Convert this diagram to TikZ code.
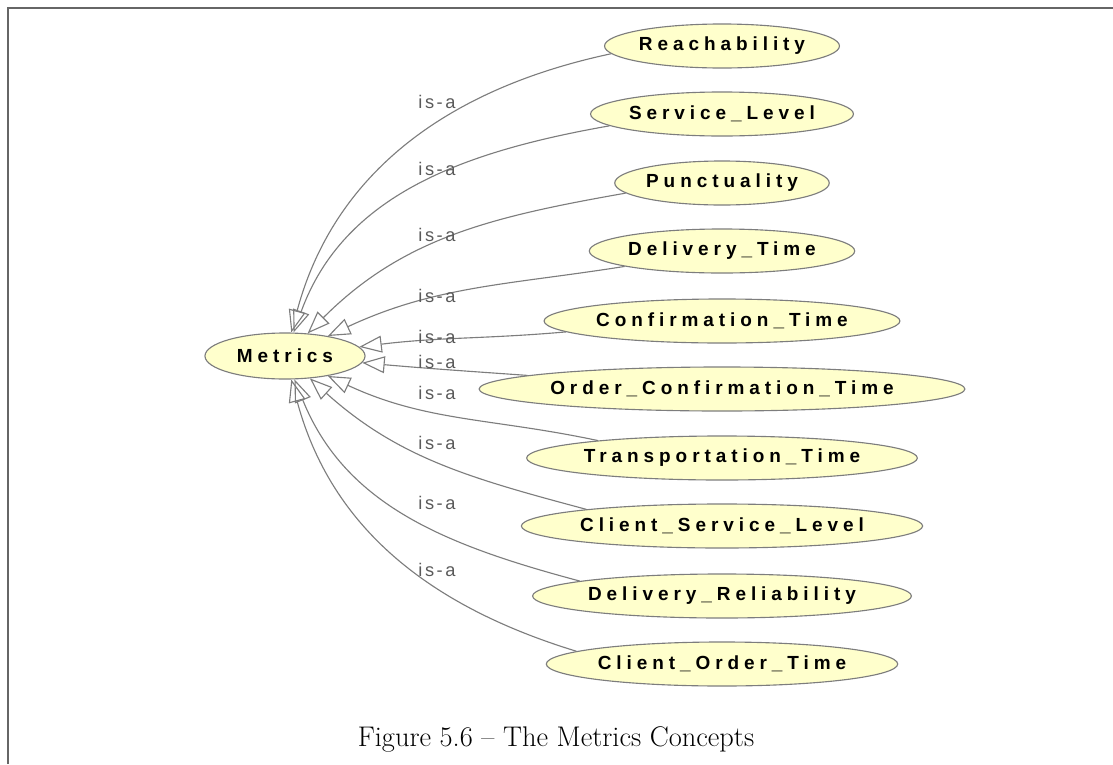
\documentclass[tikz,border=0pt]{standalone}
\usepackage{fontspec}
\usepackage{tikz}
\usepackage{xcolor}
\usetikzlibrary{
    arrows.meta,
    shapes.geometric,
    positioning
}
\newfontfamily\conceptfont[LetterSpace=26]{Liberation Sans}
\newfontfamily\isafont[LetterSpace=14]{Liberation Sans}
\definecolor{conceptfill}{RGB}{255,255,204}
\definecolor{conceptdraw}{RGB}{125,125,125}
\definecolor{isagray}{RGB}{125,125,125}
\definecolor{isatext}{RGB}{90,90,90}
\tikzset{concept/.style={ellipse, draw=conceptdraw, fill=conceptfill, line width=0.8pt, inner sep=0pt, minimum height=1.1cm, font=\conceptfont\bfseries\fontsize{13.5}{15}\selectfont}}
\tikzset{isaedge/.style={draw=isagray, line width=0.8pt, -{Triangle[open, length=16pt, width=12pt]}}}
\tikzset{isalabel/.style={inner sep=0pt, text=isatext, font=\isafont\fontsize{13}{15}\selectfont}}

\begin{document}
\begin{tikzpicture}[x=0.025cm, y=0.025cm]
                        \useasboundingbox (0, 0) rectangle (1113, -764);
                        \draw[black!60, line width=1.4pt] (8, -764) -- (8, -8) -- (1113, -8);

                        \node[concept, minimum width=4cm, minimum height=1.15cm] (metrics) at (285, -356) {Metrics};

                        \node[concept, minimum width=5.75cm] (reach) at (722, -46) {Reachability};
                        \node[concept, minimum width=6.25cm] (servlev) at (722, -114) {Service\_Level};
                        \node[concept, minimum width=5.25cm] (punct) at (722, -183) {Punctuality};
                        \node[concept, minimum width=6.25cm] (deltime) at (722, -251) {Delivery\_Time};
                        \node[concept, minimum width=7.95cm] (conftime) at (722, -321) {Confirmation\_Time};
                        \node[concept, minimum width=10.15cm] (ordconf) at (722, -389) {Order\_Confirmation\_Time};
                        \node[concept, minimum width=8.35cm] (transp) at (722, -458) {Transportation\_Time};
                        \node[concept, minimum width=8.65cm] (cliserv) at (722, -526) {Client\_Service\_Level};
                        \node[concept, minimum width=7.95cm] (delrel) at (722, -596) {Delivery\_Reliability};
                        \node[concept, minimum width=7.9cm] (cliord) at (722, -664) {Client\_Order\_Time};

                        \draw
                        (reach.184) edge[isaedge, out=192, in=75] (metrics)
                        (servlev.186) edge[isaedge, out=190, in=70] (metrics)
                        (punct.186) edge[isaedge, out=190, in=45] (metrics)
                        (deltime.189) edge[isaedge, out=189, in=25] (metrics)
                        (conftime.184) edge[isaedge, out=185, in=7] (metrics)
                        (ordconf.176) edge[isaedge, out=176, in=-5] (metrics)
                        (transp.172) edge[isaedge, out=168, in=-25] (metrics)
                        (cliserv.173) edge[isaedge, out=165, in=-42] (metrics)
                        (delrel.174) edge[isaedge, out=165, in=-68] (metrics)
                        (cliord.175) edge[isaedge, out=163, in=-75] (metrics);

                        \node[isalabel] (isa1) at (437, -102) {is-a};
                        \node[isalabel] (isa2) at (437, -169) {is-a};
                        \node[isalabel] (isa3) at (437, -235) {is-a};
                        \node[isalabel] (isa4) at (437, -296) {is-a};
                        \node[isalabel] (isa5) at (437, -337) {is-a};
                        \node[isalabel] (isa6) at (437, -362) {is-a};
                        \node[isalabel] (isa7) at (437, -393) {is-a};
                        \node[isalabel] (isa8) at (437, -443) {is-a};
                        \node[isalabel] (isa9) at (437, -503) {is-a};
                        \node[isalabel] (isa10) at (437, -570) {is-a};

                        \node[font=\fontsize{20.2}{24}\selectfont] (caption) at (556, -739) {Figure 5.6 -- The Metrics Concepts};
\end{tikzpicture}
\end{document}
